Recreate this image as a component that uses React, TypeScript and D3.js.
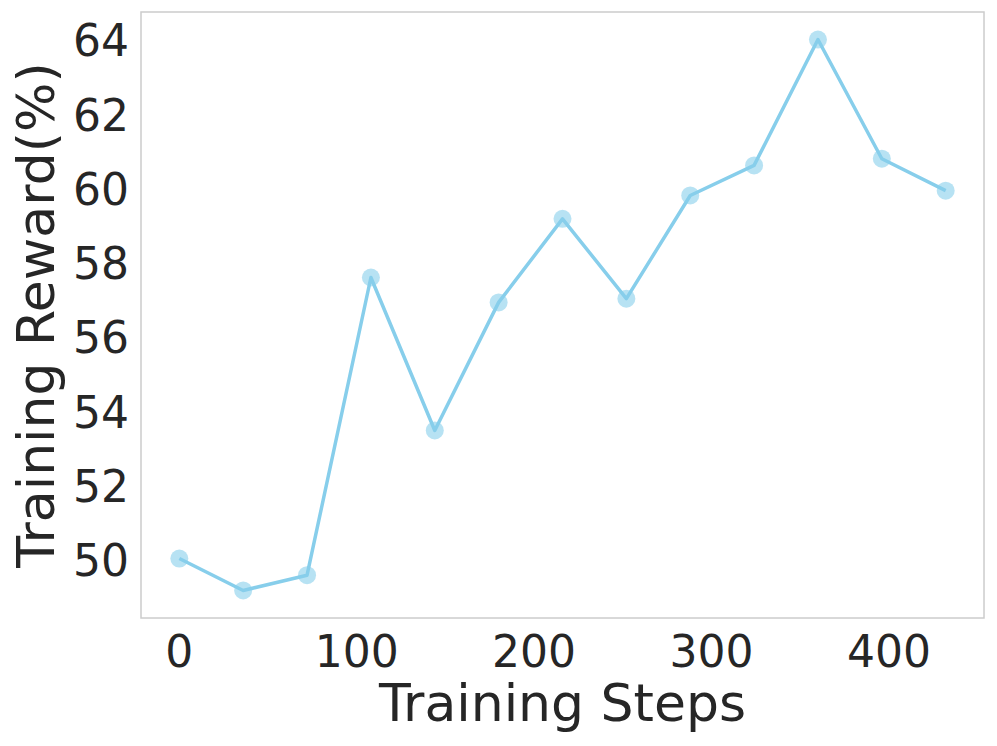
import React from "react";
import * as d3 from "d3";

const steps = [0, 36, 72, 108, 144, 180, 216, 252, 288, 324, 360, 396, 432];
const rewards = [50.05, 49.19, 49.6, 57.62, 53.5, 56.95, 59.2, 57.05, 59.83, 60.64, 64.03, 60.82, 59.96];
const xTicks = [0, 100, 200, 300, 400];
const yTicks = [50, 52, 54, 56, 58, 60, 62, 64];

export default function App() {
  const W = 997, H = 746;
  const left = 141, right = 984, top = 12, bottom = 618;
  const xMin = d3.min(steps)!, xMax = d3.max(steps)!;
  const yMin = d3.min(rewards)!, yMax = d3.max(rewards)!;
  const xm = (xMax - xMin) * 0.05, ym = (yMax - yMin) * 0.05;
  const x = d3.scaleLinear().domain([xMin - xm, xMax + xm]).range([left, right]);
  const y = d3.scaleLinear().domain([yMin - ym, yMax + ym]).range([bottom, top]);
  const line = d3.line<number>().x((_, i) => x(steps[i])).y((d) => y(d));
  const font = "DejaVu Sans, sans-serif";
  return (
    <svg width={W} height={H} style={{ position: "absolute", left: 0, top: 0 }} fontFamily={font}>
      <rect width={W} height={H} fill="#fff" />
      <rect x={left} y={top} width={right - left} height={bottom - top} fill="none" stroke="#cccccc" strokeWidth={1.5} />
      {xTicks.map((t) => (
        <text key={t} x={x(t)} y={667} textAnchor="middle" fontSize={44} fill="#262626">{t}</text>
      ))}
      {yTicks.map((t) => (
        <text key={t} x={left - 12} y={y(t)} dy="0.36em" textAnchor="end" fontSize={44} fill="#262626">{t}</text>
      ))}
      <text x={(left + right) / 2 - 0} y={721} textAnchor="middle" fontSize={52} fill="#262626">Training Steps</text>
      <text transform={`translate(54, ${(top + bottom) / 2}) rotate(-90)`} textAnchor="middle" fontSize={52} fill="#262626">Training Reward(%)</text>
      <path d={line(rewards) || ""} fill="none" stroke="#87CEEB" strokeWidth={3.5} strokeLinejoin="round" />
      {rewards.map((v, i) => (
        <circle key={i} cx={x(steps[i])} cy={y(v)} r={9} fill="#87CEEB" fillOpacity={0.6} />
      ))}
    </svg>
  );
}
